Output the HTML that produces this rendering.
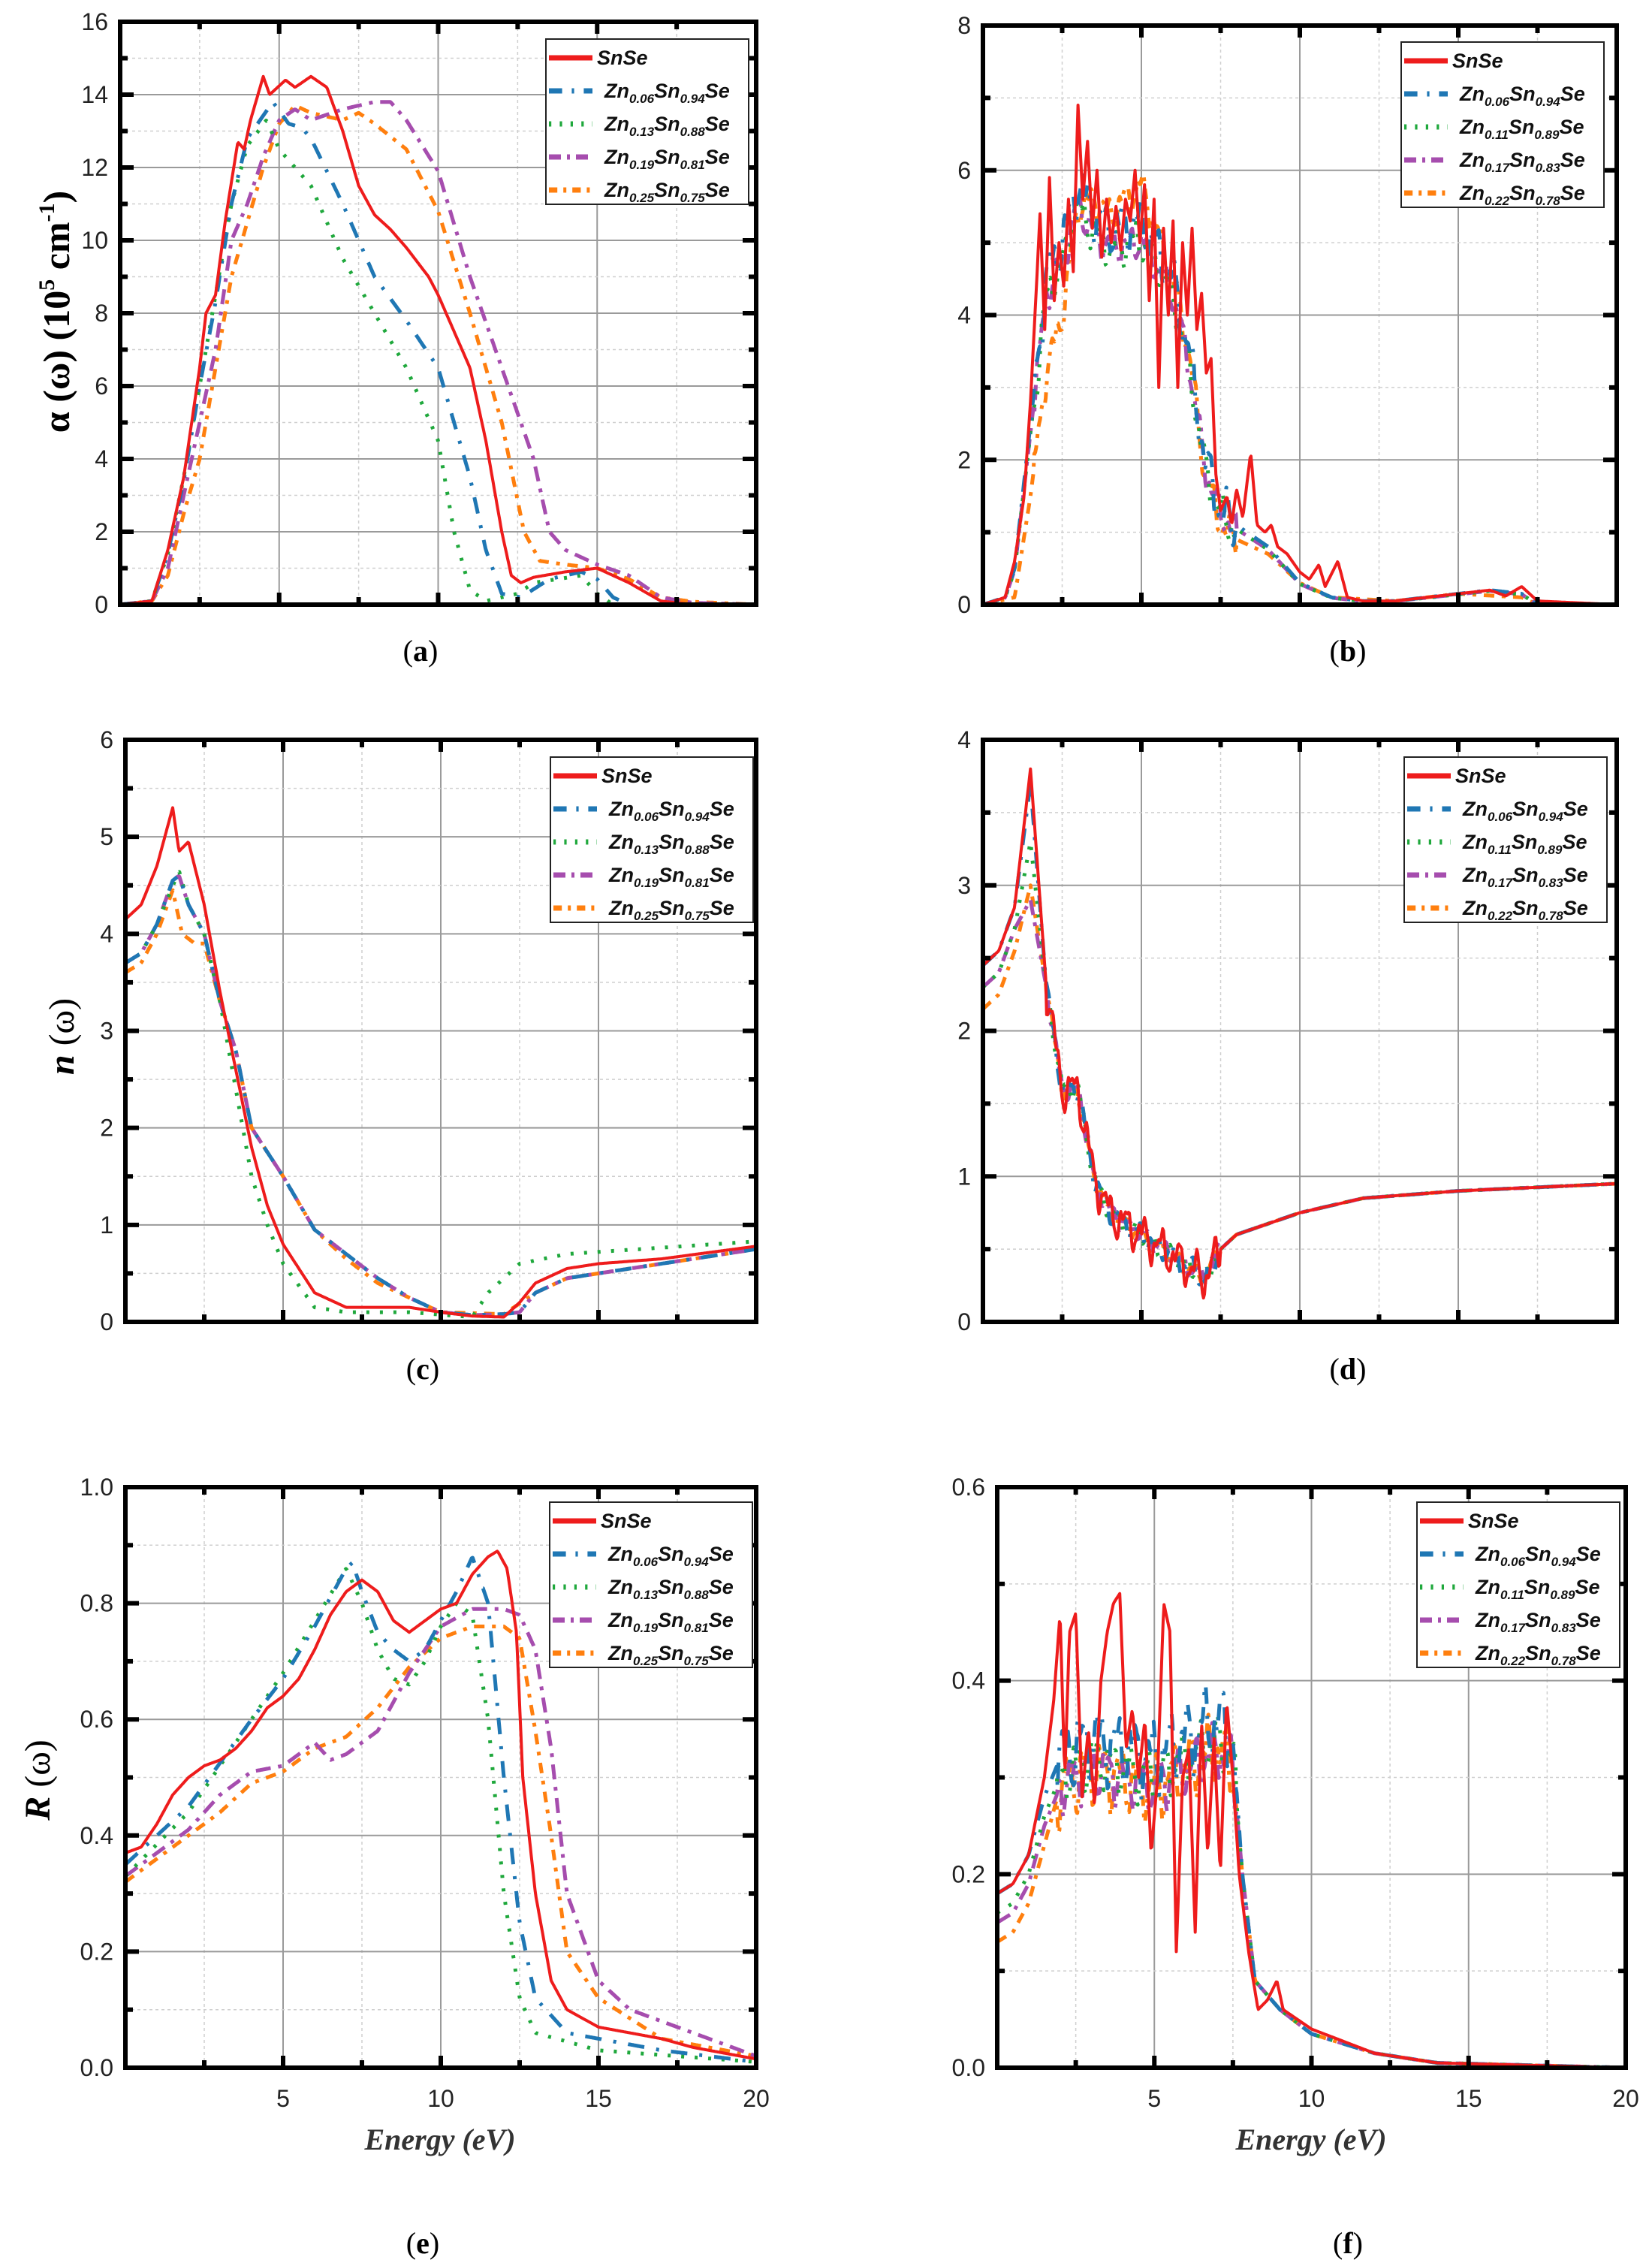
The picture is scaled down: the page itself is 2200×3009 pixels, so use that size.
<!DOCTYPE html>
<html><head><meta charset="utf-8">
<style>
html,body{margin:0;padding:0;background:#fff;}
svg{display:block;}
</style></head>
<body>
<svg id="s" xmlns="http://www.w3.org/2000/svg" width="2200" height="3009" viewBox="0 0 2200 3009">
<rect width="2200" height="3009" fill="#fff"/>
<g id="g"></g>
<text x="560" y="880" font-family="Liberation Serif, serif" font-size="40" text-anchor="middle">(<tspan font-weight="bold">a</tspan>)</text>
<text x="1795" y="880" font-family="Liberation Serif, serif" font-size="40" text-anchor="middle">(<tspan font-weight="bold">b</tspan>)</text>
<text x="563" y="1836" font-family="Liberation Serif, serif" font-size="40" text-anchor="middle">(<tspan font-weight="bold">c</tspan>)</text>
<text x="1795" y="1836" font-family="Liberation Serif, serif" font-size="40" text-anchor="middle">(<tspan font-weight="bold">d</tspan>)</text>
<text x="563" y="3000" font-family="Liberation Serif, serif" font-size="40" text-anchor="middle">(<tspan font-weight="bold">e</tspan>)</text>
<text x="1795" y="3000" font-family="Liberation Serif, serif" font-size="40" text-anchor="middle">(<tspan font-weight="bold">f</tspan>)</text>
<text transform="translate(92,415) rotate(-90)" font-family="Liberation Serif, serif" font-size="50" font-weight="bold" text-anchor="middle">α (ω) (10<tspan font-size="30" dy="-20">5</tspan><tspan dy="20"> cm</tspan><tspan font-size="30" dy="-20">-1</tspan><tspan dy="20">)</tspan></text>
<text transform="translate(98,1380) rotate(-90)" font-family="Liberation Serif, serif" font-size="48" text-anchor="middle"><tspan font-weight="bold" font-style="italic">n</tspan> (ω)</text>
<text transform="translate(66,2370) rotate(-90)" font-family="Liberation Serif, serif" font-size="48" text-anchor="middle"><tspan font-weight="bold" font-style="italic">R</tspan> (ω)</text>
<text x="586" y="2862" font-family="Liberation Serif, serif" font-size="40" font-weight="bold" font-style="italic" text-anchor="middle" fill="#333">Energy (eV)</text>
<text x="1746" y="2862" font-family="Liberation Serif, serif" font-size="40" font-weight="bold" font-style="italic" text-anchor="middle" fill="#333">Energy (eV)</text>
</svg>
<script>
var NS="http://www.w3.org/2000/svg",G=document.getElementById('g');
function el(t,a,p){var e=document.createElementNS(NS,t);for(var k in a)e.setAttribute(k,a[k]);(p||G).appendChild(e);return e;}
var COL=['#ee1c1c','#1f77b4','#1fa83c','#a64dae','#ff7f0e'];
var DASH=['none','22,16,4,16','4,14','20,10,5,10','14,10,5,10'];
function interp(pts,x){if(x<=pts[0][0])return pts[0][1];for(var i=1;i<pts.length;i++){if(x<=pts[i][0]){var a=pts[i-1],b=pts[i];return a[1]+(b[1]-a[1])*(x-a[0])/(b[0]-a[0]);}}return pts[pts.length-1][1];}
function noise(x,s){return 0.55*Math.sin(x*11.3+s)+0.3*Math.sin(x*23.1+2*s)+0.15*Math.sin(x*41.7+3*s);}
function panel(o){
 var L=o.x0,R=o.x1,T=o.y0,B=o.y1;
 function X(v){return L+(R-L)*v/20;} function Y(v){return B-(B-T)*v/o.ymax;}
 for(var v=2.5;v<20;v+=2.5){var maj=(v%5==0);el('line',{x1:X(v),x2:X(v),y1:T,y2:B,stroke:maj?'#9a9a9a':'#cfcfcf','stroke-width':maj?2:1.5,'stroke-dasharray':maj?'none':'4,4'});}
 var n=Math.round(o.ymax/o.minor);
 for(var i=1;i<n;i++){var v=i*o.minor,maj=(i%2==0);el('line',{x1:L,x2:R,y1:Y(v),y2:Y(v),stroke:maj?'#9a9a9a':'#cfcfcf','stroke-width':maj?2:1.5,'stroke-dasharray':maj?'none':'4,4'});}
 var cp=el('clipPath',{id:'c'+o.id});el('rect',{x:L,y:T,width:R-L,height:B-T},cp);
 for(var s=o.series.length-1;s>=0;s--){var sr=o.series[s],d='';
  for(var x=0;x<=20.001;x+=0.03){var y=interp(sr.p,x);
   if(sr.n){var w=sr.n;if(x>=w[1]&&x<=w[2])y+=w[0]*noise(x,s*1.7+1);}
   if(y<0)y=0;d+=(d?'L':'M')+X(x).toFixed(1)+','+Y(y).toFixed(1);}
  el('path',{d:d,fill:'none',stroke:COL[s],'stroke-width':s==0?4:5,'stroke-dasharray':DASH[s],'clip-path':'url(#c'+o.id+')','stroke-linejoin':'round'});}
 el('rect',{x:L,y:T,width:R-L,height:B-T,fill:'none',stroke:'#000','stroke-width':6});
 for(var v=2.5;v<20;v+=2.5){var maj=(v%5==0),len=maj?16:10;
  el('line',{x1:X(v),x2:X(v),y1:B,y2:B-len,stroke:'#000','stroke-width':6});
  el('line',{x1:X(v),x2:X(v),y1:T,y2:T+len,stroke:'#000','stroke-width':6});}
 for(var i=1;i<n;i++){var maj=(i%2==0),len=maj?18:10,y=Y(i*o.minor);
  el('line',{x1:L,x2:L+len,y1:y,y2:y,stroke:'#000','stroke-width':6});
  el('line',{x1:R,x2:R-len,y1:y,y2:y,stroke:'#000','stroke-width':6});}
 for(var i=0;i<=n;i+=2){var v=i*o.minor;var t=el('text',{x:L-16,y:Y(v)+11,'font-family':'Liberation Sans, sans-serif','font-size':32,'text-anchor':'end',fill:'#222'});t.textContent=v.toFixed(o.dec);}
 if(o.xl){[5,10,15,20].forEach(function(v){var t=el('text',{x:X(v),y:B+52,'font-family':'Liberation Sans, sans-serif','font-size':32,'text-anchor':'middle',fill:'#222'});t.textContent=v;});}
 var lx=o.lg[0],ly=o.lg[1],lw=270,lh=220;
 el('rect',{x:lx,y:ly,width:lw,height:lh,fill:'#fff',stroke:'#222','stroke-width':2});
 for(var k=0;k<5;k++){var yy=ly+25+k*44;
  el('line',{x1:lx+4,x2:lx+62,y1:yy,y2:yy,stroke:COL[k],'stroke-width':7,'stroke-dasharray':DASH[k]=='none'?'none':DASH[k].split(',').map(function(a){return a*0.8;}).join(',')});
  var t=el('text',{x:lx+(k==0?68:78),y:yy+9,'font-family':'Liberation Sans, sans-serif','font-size':27,'font-style':'italic','font-weight':'bold',fill:'#111'});
  if(k==0){t.textContent='SnSe';}else{var c=o.comp[k-1];
   t.innerHTML='Zn<tspan font-size="17" dy="7">'+c[0]+'</tspan><tspan dy="-7">Sn</tspan><tspan font-size="17" dy="7">'+c[1]+'</tspan><tspan dy="-7">Se</tspan>';}}
}
var C1=[['0.06','0.94'],['0.13','0.88'],['0.19','0.81'],['0.25','0.75']];
var C2=[['0.06','0.94'],['0.11','0.89'],['0.17','0.83'],['0.22','0.78']];
panel({id:'a',x0:160,x1:1007,y0:29,y1:805,ymax:16,minor:1,dec:0,comp:C1,lg:[727,52],series:[
 {p:[[0,0],[1,0.1],[1.5,1.5],[2,3.5],[2.5,6.5],[2.7,8],[3,8.5],[3.3,10.5],[3.7,12.7],[3.9,12.5],[4.1,13.3],[4.5,14.5],[4.7,14],[5.2,14.4],[5.5,14.2],[6,14.5],[6.5,14.2],[7,13],[7.5,11.5],[8,10.7],[8.5,10.3],[9,9.8],[9.7,9],[10,8.5],[11,6.5],[11.5,4.5],[12,2],[12.3,0.8],[12.6,0.6],[13,0.75],[14,0.9],[15,1.0],[16,0.6],[17,0.1],[18,0],[20,0]]},
 {p:[[0,0],[1,0.1],[1.5,1.4],[2,3.4],[2.5,6],[3,8.3],[3.5,11],[4,12.8],[4.8,13.8],[5.3,13.2],[5.7,13.1],[6,12.8],[7,11],[8,9],[9,7.8],[10,6.5],[11,3.5],[11.5,1.5],[12,0.3],[12.6,0.2],[13.5,0.7],[14.5,0.9],[15,0.7],[15.5,0.2],[16,0],[20,0]]},
 {p:[[0,0],[1,0.1],[1.5,1.4],[2,3.5],[2.5,6],[3,8.5],[3.5,11],[4,12.6],[4.6,13.3],[5,12.5],[6,11.5],[7,9.5],[8,8],[9,6.5],[10,4.5],[10.5,2],[11,0.4],[11.5,0.1],[12.5,0.3],[13,0.6],[14.5,0.8],[15,0.3],[15.5,0],[20,0]]},
 {p:[[0,0],[1,0.1],[1.5,1],[2,3],[2.5,5],[3,7],[3.5,10],[4,11],[4.5,12.3],[5,13.3],[5.5,13.6],[6,13.3],[7,13.6],[8,13.8],[8.5,13.8],[9,13.3],[10,11.9],[11,9],[12,6.5],[13,4],[13.5,2],[14,1.5],[14.5,1.3],[15,1.1],[16,0.8],[17,0.2],[18,0.05],[20,0]]},
 {p:[[0,0],[1,0.1],[1.5,0.8],[2,2.5],[2.5,4],[3,6.5],[3.5,9],[4,10.5],[4.5,12],[5,13.2],[5.5,13.7],[6,13.5],[7,13.3],[7.5,13.5],[8,13.2],[9,12.5],[10,10.8],[11,8],[12,5],[12.7,2],[13.2,1.2],[14,1.1],[15,1.0],[16,0.7],[17,0.2],[18,0.08],[20,0]]}]});
var bb=[[0,0],[0.7,0.1],[1,0.5],[1.5,2.5],[2,4.5],[2.5,5],[3,5.8],[3.5,5.4],[4,5.2],[5,5.3],[6,4.5],[6.5,3.5],[7,2],[7.5,1.3],[8,1.1],[9,0.8],[10,0.3],[11,0.1],[12,0.05],[13,0.05],[15,0.15],[16,0.2],[17,0.15],[17.5,0],[20,0]];
var bred=[[0,0],[0.7,0.1],[1,0.6],[1.3,1.5],[1.5,2.8],[1.7,4.5],[1.8,5.4],[1.95,3.8],[2.1,5.9],[2.25,4.2],[2.4,5.0],[2.55,4.4],[2.7,5.6],[2.85,4.6],[3.0,6.9],[3.15,5.6],[3.3,6.4],[3.45,5.2],[3.6,6.0],[3.75,4.8],[3.9,5.6],[4.05,5.0],[4.2,5.5],[4.35,4.9],[4.5,5.6],[4.65,5.3],[4.8,6.0],[4.95,5.0],[5.1,5.8],[5.25,4.2],[5.4,5.6],[5.55,3.0],[5.7,5.2],[5.85,4.0],[6.0,5.3],[6.15,3.0],[6.3,5.0],[6.45,4.0],[6.6,5.2],[6.75,3.8],[6.9,4.3],[7.05,3.2],[7.2,3.4],[7.35,1.8],[7.5,1.3],[7.7,1.5],[7.85,1.1],[8.0,1.6],[8.2,1.2],[8.45,2.1],[8.65,1.1],[8.9,1.0],[9.1,1.1],[9.3,0.8],[9.6,0.7],[10,0.45],[10.3,0.35],[10.6,0.55],[10.8,0.25],[11.2,0.6],[11.5,0.1],[12,0.05],[13,0.05],[14,0.1],[15,0.15],[16,0.2],[16.5,0.12],[17,0.25],[17.5,0.05],[20,0]];
panel({id:'b',x0:1309,x1:2153,y0:34,y1:805,ymax:8,minor:1,dec:0,comp:C2,lg:[1866,56],series:[
 {p:bred},
 {p:bb,n:[0.45,1.6,8]},
 {p:bb.map(function(a){return [a[0],a[1]*0.95];}),n:[0.35,1.6,8]},
 {p:bb.map(function(a){return [a[0],a[1]*0.95];}),n:[0.3,1.6,8]},
 {p:[[0,0],[1,0.1],[1.5,1.5],[2,3.2],[2.5,4],[3,5.5],[3.5,5.6],[4,5.4],[4.5,5.6],[5,5.8],[6,4.5],[6.5,3.5],[7,1.8],[7.5,1.1],[8,0.9],[9,0.7],[10,0.3],[11,0.1],[13,0.05],[15,0.15],[17,0.1],[17.5,0],[20,0]],n:[0.3,1.6,8]}]});
var cb=[[0,3.7],[0.5,3.8],[1,4.1],[1.5,4.55],[1.7,4.6],[2,4.3],[2.5,4],[3,3.3],[3.5,2.8],[4,2],[5,1.5],[6,0.95],[7,0.7],[8,0.45],[9,0.25],[10,0.1],[11,0.07],[12,0.08],[12.5,0.1],[13,0.3],[14,0.45],[16,0.55],[20,0.75]];
panel({id:'c',x0:167,x1:1007,y0:985,y1:1760,ymax:6,minor:0.5,dec:0,comp:C1,lg:[733,1008],series:[
 {p:[[0,4.15],[0.5,4.3],[1,4.7],[1.5,5.3],[1.7,4.85],[2,4.95],[2.5,4.3],[3,3.4],[3.5,2.6],[4,1.8],[4.5,1.2],[5,0.8],[6,0.3],[7,0.15],[8,0.15],[9,0.15],[10,0.1],[11,0.06],[12,0.05],[12.5,0.2],[13,0.4],[14,0.55],[15,0.6],[17,0.65],[20,0.78]]},
 {p:cb},
 {p:[[0,3.7],[0.5,3.8],[1,4.1],[1.7,4.65],[2,4.3],[2.5,4],[3,3.3],[3.5,2.4],[4,1.5],[4.5,1.0],[5,0.6],[6,0.15],[7,0.1],[9,0.1],[11,0.05],[11.5,0.3],[12.5,0.6],[14,0.7],[20,0.83]]},
 {p:cb},
 {p:[[0,3.6],[0.5,3.7],[1,4.0],[1.5,4.45],[1.8,4.0],[2.2,3.9],[2.5,3.9],[3,3.3],[3.5,2.8],[4,2],[5,1.5],[6,0.95],[7,0.65],[8,0.4],[9,0.25],[10,0.1],[12,0.08],[13,0.3],[14,0.45],[16,0.55],[20,0.75]]}]});
function dcur(s,pk){return [[0,s],[0.5,s+0.1],[1,s+0.4],[1.5,pk],[2,2.3],[2.5,1.6],[3,1.6],[3.5,1.0],[4,0.75],[5,0.6],[6,0.45],[7,0.3],[7.5,0.5],[8,0.6],[10,0.75],[12,0.85],[15,0.9],[20,0.95]];}
panel({id:'d',x0:1309,x1:2153,y0:985,y1:1760,ymax:4,minor:0.5,dec:0,comp:C2,lg:[1870,1008],series:[
 {p:dcur(2.45,3.8),n:[0.18,2,7.5]},{p:dcur(2.45,3.7),n:[0.1,2,7.5]},{p:dcur(2.3,3.3),n:[0.08,2,7.5]},{p:dcur(2.3,2.9),n:[0.08,2,7.5]},{p:dcur(2.15,3.0),n:[0.08,2,7.5]}]});
panel({id:'e',x0:167,x1:1007,y0:1980,y1:2753,ymax:1,minor:0.1,dec:1,comp:C1,lg:[732,2000],xl:1,series:[
 {p:[[0,0.37],[0.5,0.38],[1,0.42],[1.5,0.47],[2,0.5],[2.5,0.52],[3,0.53],[3.5,0.55],[4,0.58],[4.5,0.62],[5,0.64],[5.5,0.67],[6,0.72],[6.5,0.78],[7,0.82],[7.5,0.84],[8,0.82],[8.5,0.77],[9,0.75],[9.5,0.77],[10,0.79],[10.5,0.8],[11,0.85],[11.5,0.88],[11.8,0.89],[12.1,0.86],[12.4,0.75],[12.6,0.5],[13,0.3],[13.5,0.15],[14,0.1],[15,0.07],[16,0.06],[17,0.05],[18,0.035],[20,0.015]]},
 {p:[[0,0.35],[2,0.45],[4,0.6],[5,0.67],[6,0.76],[7,0.86],[7.2,0.87],[7.5,0.82],[8,0.75],[8.5,0.72],[9,0.7],[9.5,0.72],[10,0.77],[10.5,0.82],[11,0.88],[11.5,0.8],[12,0.5],[12.5,0.25],[13,0.12],[14,0.06],[15,0.05],[17,0.03],[20,0.01]]},
 {p:[[0,0.33],[2,0.44],[4,0.6],[5,0.68],[6,0.77],[7,0.86],[7.5,0.8],[8,0.72],[8.5,0.67],[9,0.66],[9.5,0.7],[10,0.76],[10.5,0.8],[11,0.78],[11.5,0.6],[12,0.3],[12.5,0.12],[13,0.06],[15,0.03],[20,0.01]]},
 {p:[[0,0.33],[2,0.41],[3,0.47],[4,0.51],[5,0.52],[6,0.56],[6.5,0.53],[7,0.54],[8,0.58],[9,0.68],[10,0.76],[11,0.79],[12,0.79],[12.5,0.78],[13,0.72],[13.5,0.55],[14,0.3],[15,0.15],[16,0.1],[18,0.06],[20,0.02]]},
 {p:[[0,0.32],[2,0.4],[3,0.44],[4,0.49],[5,0.51],[6,0.55],[7,0.57],[8,0.62],[9,0.69],[10,0.74],[11,0.76],[12,0.76],[12.5,0.74],[13,0.58],[13.5,0.4],[14,0.2],[15,0.12],[17,0.05],[20,0.02]]}]});
function fcur(s,pl){return [[0,s],[0.5,s+0.01],[1,s+0.04],[1.5,s+0.1],[2,pl-0.02],[3,pl],[5,pl-0.02],[7,pl+0.02],[7.5,pl],[7.8,0.2],[8.2,0.09],[9,0.06],[10,0.035],[12,0.015],[14,0.005],[20,0]];}
var fred=[[0,0.18],[0.5,0.19],[1,0.22],[1.5,0.3],[1.8,0.38],[2,0.47],[2.15,0.3],[2.3,0.45],[2.5,0.47],[2.7,0.28],[2.9,0.35],[3.1,0.27],[3.3,0.4],[3.5,0.45],[3.7,0.48],[3.9,0.49],[4.1,0.33],[4.3,0.37],[4.5,0.3],[4.7,0.36],[4.9,0.22],[5.1,0.3],[5.3,0.48],[5.5,0.45],[5.7,0.12],[5.9,0.3],[6.1,0.33],[6.3,0.14],[6.5,0.36],[6.7,0.22],[6.9,0.34],[7.1,0.2],[7.3,0.38],[7.5,0.3],[7.7,0.2],[8,0.12],[8.3,0.06],[8.6,0.07],[8.9,0.09],[9.1,0.06],[10,0.04],[12,0.015],[14,0.005],[20,0]];
panel({id:'f',x0:1328,x1:2165,y0:1980,y1:2753,ymax:0.6,minor:0.1,dec:1,comp:C2,lg:[1887,2000],xl:1,series:[
 {p:fred},{p:fcur(0.18,0.34),n:[0.05,1.9,7.6]},{p:fcur(0.16,0.32),n:[0.035,1.9,7.6]},{p:fcur(0.15,0.31),n:[0.035,1.9,7.6]},{p:fcur(0.13,0.31),n:[0.045,1.9,7.6]}]});
</script>
</body></html>
